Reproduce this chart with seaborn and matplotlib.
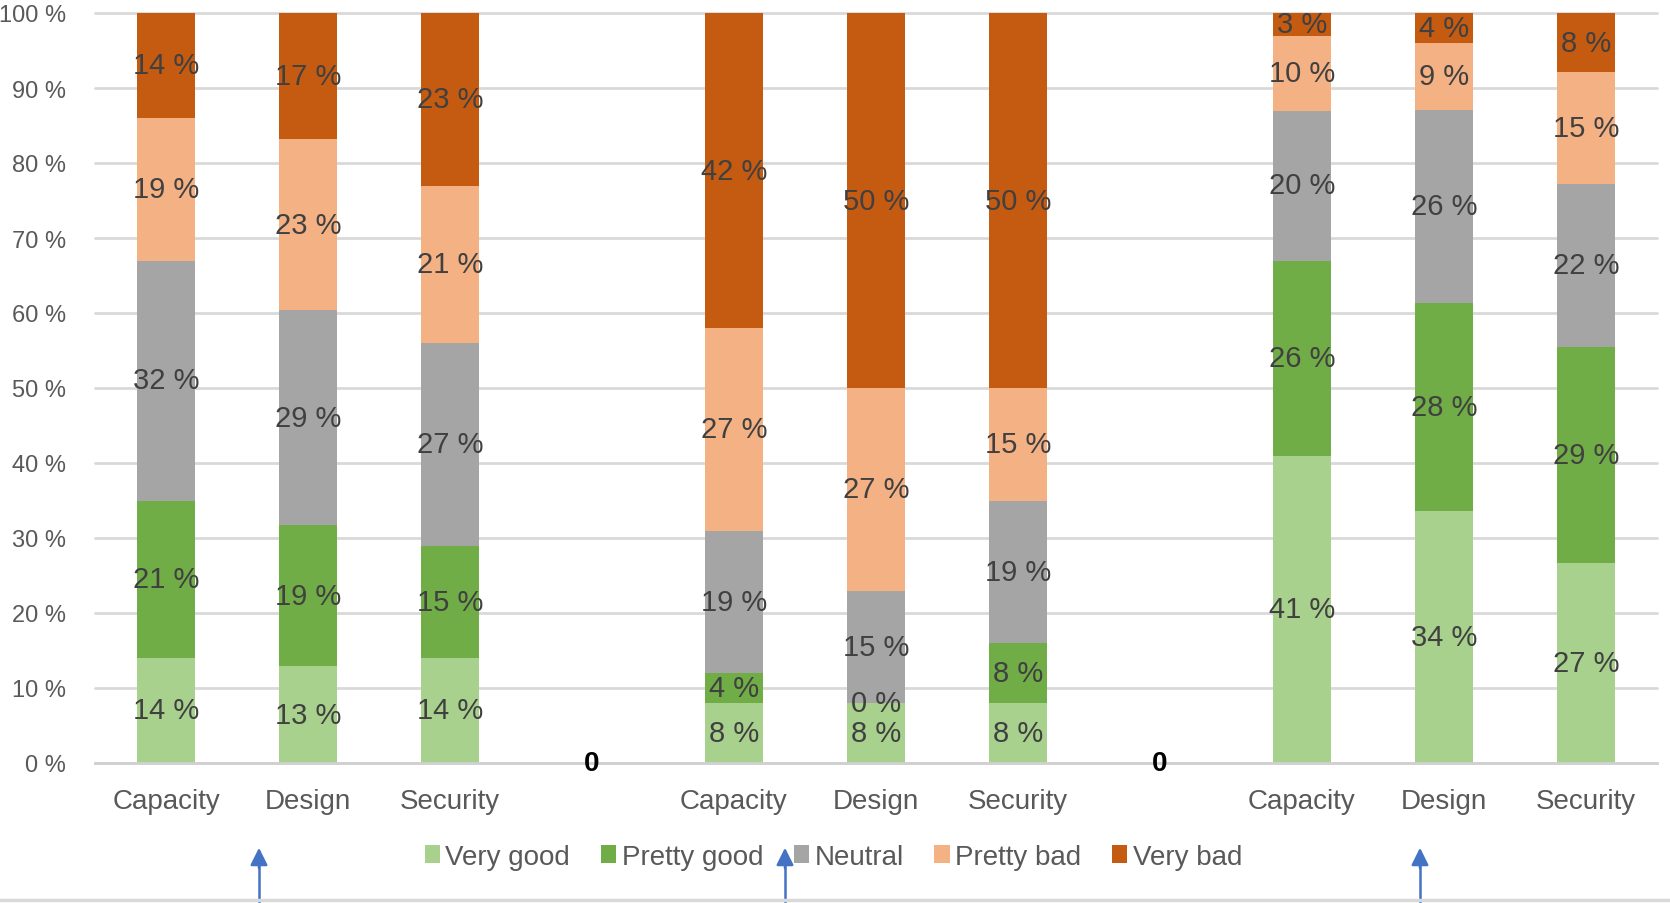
import numpy as np
import pandas as pd
import seaborn as sns
import matplotlib.pyplot as plt
from matplotlib.patches import Patch

# ---- data ----
groups = ["A", "B", "C"]
items = ["Capacity", "Design", "Security"]
ratings = ["Very good", "Pretty good", "Neutral", "Pretty bad", "Very bad"]

very_good = [14, 13, 14, 8, 8, 8, 41, 34, 27]
pretty_good = [21, 19, 15, 4, 0, 8, 26, 28, 29]
neutral = [32, 29, 27, 19, 15, 19, 20, 26, 22]
pretty_bad = [19, 23, 21, 27, 27, 15, 10, 9, 15]
very_bad = [14, 17, 23, 42, 50, 50, 3, 4, 8]

colors = ["#a9d18e", "#70ad47", "#a5a5a5", "#f4b183", "#c55a11"]
gap_label = "0"

# ---- build long table ----
keys = [f"{g}|{it}" for g in groups for it in items]
df = pd.DataFrame({
    "key": keys,
    "Very good": very_good,
    "Pretty good": pretty_good,
    "Neutral": neutral,
    "Pretty bad": pretty_bad,
    "Very bad": very_bad,
})
totals = df[ratings].sum(axis=1)
cum = df[ratings].cumsum(axis=1).div(totals, axis=0) * 100  # 100% stacked like Excel

order = []
for gi, g in enumerate(groups):
    order += [f"{g}|{it}" for it in items]
    if gi < len(groups) - 1:
        order.append(f"gap{gi}")
tick_labels = [k.split("|")[1] if "|" in k else "" for k in order]

sns.set_theme(style="white")
plt.rcParams["font.family"] = ["Liberation Sans Narrow", "Liberation Sans", "DejaVu Sans"]

fig = plt.figure(figsize=(16.7, 9.04), dpi=100)
ax = fig.add_axes([95 / 1670, 1 - 764 / 904, (1657 - 95) / 1670, (764 - 14) / 904])

# overlay cumulative bars, top layer first
for r, c in zip(ratings[::-1], colors[::-1]):
    sns.barplot(x=df["key"], y=cum[r], order=order, color=c, width=0.41,
                errorbar=None, linewidth=0, saturation=1, ax=ax)

# segment labels
pos = {k: i for i, k in enumerate(order)}
for _, row in df.iterrows():
    i = pos[row["key"]]
    for r in ratings:
        top = cum.loc[_, r]
        mid = top - row[r] / totals[_] * 100 / 2
        ax.text(i, mid, f"{row[r]} %", ha="center", va="center",
                fontsize=21, color="#404040")

# the bold "0" in the gaps
for i, k in enumerate(order):
    if not "|" in k:
        ax.text(i, 0, gap_label, ha="center", va="center", fontsize=20,
                fontweight="bold", color="#000000", clip_on=False)

ax.set_xlim(-0.5, len(order) - 0.5)
ax.set_ylim(0, 100)
ax.set_yticks(np.arange(0, 101, 10))
ax.set_yticklabels([f"{v} %" for v in range(0, 101, 10)])
ax.set_xticks(range(len(order)))
ax.set_xticklabels(tick_labels)
ax.tick_params(axis="y", labelsize=17, labelcolor="#595959", length=0, pad=21)
ax.tick_params(axis="x", labelsize=20, labelcolor="#595959", length=0, pad=18)
ax.set_xlabel("")
ax.set_ylabel("")

ax.yaxis.grid(True, color="#d9d9d9", linewidth=2)
for gl in ax.get_ygridlines():
    gl.set_clip_on(False)
ax.set_axisbelow(True)
for s in ["top", "right", "left"]:
    ax.spines[s].set_visible(False)
ax.spines["bottom"].set_color("#d0d0d0")
ax.spines["bottom"].set_linewidth(2)

handles = [Patch(facecolor=c, edgecolor="none", label=r) for r, c in zip(ratings, colors)]
leg = fig.legend(handles=handles, loc="center", bbox_to_anchor=(0.499, 1 - 858 / 904),
                 ncol=5, frameon=False, fontsize=20, handlelength=0.55, handleheight=0.6,
                 handletextpad=0.2, columnspacing=1.1)
for t in leg.get_texts():
    t.set_color("#595959")

# blue arrows below the chart
for xa in [259, 785, 1420]:
    fig.add_artist(plt.Line2D([xa / 1670, xa / 1670], [0, 0.045], color="#4472c4", lw=1.8))
    ax.annotate("", xy=(xa, 904 - 846), xytext=(xa, 904 - 872), xycoords="figure pixels",
                textcoords="figure pixels",
                arrowprops=dict(arrowstyle="-|>", color="#4472c4", lw=1.8, mutation_scale=26))

fig.add_artist(plt.Line2D([0, 1], [3 / 904, 3 / 904], color="#d9d9d9", lw=2.5))

fig.savefig("out.png", dpi=100, facecolor="white")
